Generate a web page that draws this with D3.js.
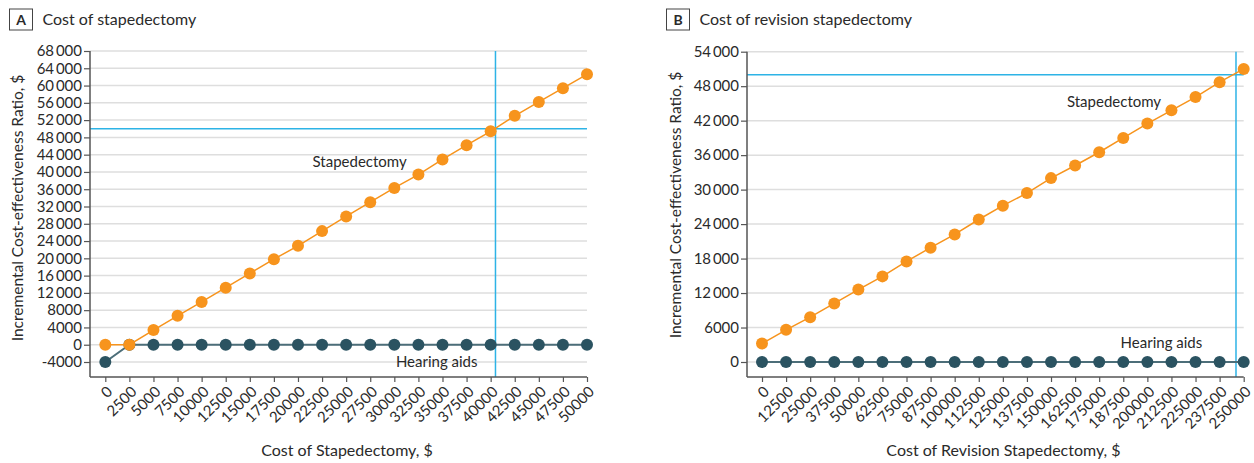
<!DOCTYPE html>
<html>
<head>
<meta charset="utf-8">
<script src="https://cdn.jsdelivr.net/npm/d3@7"></script>
<style>
  body { margin: 0; background: #fff; }
  svg text { font-family: Lato, "Noto Sans", sans-serif; fill: #2a2a2a; }
</style>
</head>
<body>
<svg id="chart" width="1254" height="463"></svg>
<script>
// Panel A: cost of primary stapedectomy vs ICER
const costA = [0, 2500, 5000, 7500, 10000, 12500, 15000, 17500, 20000, 22500, 25000,
               27500, 30000, 32500, 35000, 37500, 40000, 42500, 45000, 47500, 50000];
const stapedectomyA = [0, 0, 3400, 6700, 9900, 13200, 16500, 19800, 22900, 26300, 29700,
                       33000, 36300, 39400, 42900, 46200, 49400, 53000, 56200, 59400, 62600];
const hearingAidsA = [-4000, 0, 0, 0, 0, 0, 0, 0, 0, 0, 0,
                      0, 0, 0, 0, 0, 0, 0, 0, 0, 0];
const yTicksA = [-4000, 0, 4000, 8000, 12000, 16000, 20000, 24000, 28000, 32000, 36000,
                 40000, 44000, 48000, 52000, 56000, 60000, 64000, 68000];

// Panel B: cost of revision stapedectomy vs ICER
const costB = [0, 12500, 25000, 37500, 50000, 62500, 75000, 87500, 100000, 112500, 125000,
               137500, 150000, 162500, 175000, 187500, 200000, 212500, 225000, 237500, 250000];
const stapedectomyB = [3200, 5600, 7800, 10200, 12600, 14900, 17500, 19900, 22200, 24800, 27200,
                       29400, 32000, 34200, 36500, 39000, 41500, 43800, 46100, 48700, 51000];
const hearingAidsB = [0, 0, 0, 0, 0, 0, 0, 0, 0, 0, 0,
                      0, 0, 0, 0, 0, 0, 0, 0, 0, 0];
const yTicksB = [0, 6000, 12000, 18000, 24000, 30000, 36000, 42000, 48000, 54000];

// Willingness-to-pay threshold and the cost at which stapedectomy reaches it
const wtpThreshold = 50000;
const crossCostA = 40500;
const crossCostB = 246000;

const COLORS = {
  stap: "#f7941d",
  aidsDot: "#2b5361",
  aidsLine: "#4c6e79",
  ref: "#2db3e6",
  grid: "#dedede",
  axis: "#555"
};

const svg = d3.select("#chart");

function fmtY(v) {
  return Math.abs(v) >= 10000 ? d3.format(",")(v).replace(/,/g, "\u2009") : String(v);
}

function drawPanel(p) {
  const g = svg.append("g");
  const x = d3.scaleLinear().domain([p.costs[0], p.costs[p.costs.length - 1]]).range([p.xFirst, p.xLast]);
  const y = d3.scaleLinear().domain([p.yTicks[0], p.yTicks[p.yTicks.length - 1]]).range([p.yLow, p.yHigh]);

  // panel letter and title
  g.append("rect").attr("x", p.boxX).attr("y", 9).attr("width", 23).attr("height", 21)
    .attr("fill", "#fff").attr("stroke", "#444").attr("stroke-width", 1);
  g.append("text").attr("x", p.boxX + 11.5).attr("y", 25).attr("text-anchor", "middle")
    .attr("font-size", 14).attr("font-weight", 700).text(p.letter);
  g.append("text").attr("x", p.boxX + 33).attr("y", 25).attr("font-size", 16).text(p.title);

  // horizontal gridlines
  g.append("g").selectAll("line").data(p.yTicks).join("line")
    .attr("x1", p.axisX).attr("x2", p.xLast)
    .attr("y1", d => y(d)).attr("y2", d => y(d))
    .attr("stroke", COLORS.grid).attr("stroke-width", 1.5);

  // reference lines
  g.append("line").attr("x1", p.axisX).attr("x2", p.xLast)
    .attr("y1", y(wtpThreshold)).attr("y2", y(wtpThreshold))
    .attr("stroke", COLORS.ref).attr("stroke-width", 1.5);
  g.append("line").attr("x1", x(p.crossCost)).attr("x2", x(p.crossCost))
    .attr("y1", p.yHigh).attr("y2", p.axisY)
    .attr("stroke", COLORS.ref).attr("stroke-width", 1.5);

  // y axis
  const ya = g.append("g").attr("transform", `translate(${p.axisX},0)`)
    .call(d3.axisLeft(y).tickValues(p.yTicks).tickFormat(fmtY).tickSize(6).tickPadding(2).tickSizeOuter(0));
  ya.select(".domain").attr("d", `M0,${p.yHigh}V${p.axisY}`);
  ya.selectAll("line").attr("stroke", COLORS.axis).attr("stroke-width", 1.2);
  ya.select(".domain").attr("stroke", COLORS.axis).attr("stroke-width", 1.5);
  ya.selectAll("text").attr("font-size", 15).attr("font-family", "Lato").attr("fill", "#2a2a2a");

  // x axis
  const xa = g.append("g").attr("transform", `translate(0,${p.axisY})`)
    .call(d3.axisBottom(x).tickValues(p.costs).tickFormat(d => String(d)).tickSize(5).tickSizeOuter(0));
  xa.select(".domain").attr("d", `M${p.axisX},0H${p.xLast}`)
    .attr("stroke", COLORS.axis).attr("stroke-width", 1.5);
  xa.selectAll("line").attr("stroke", COLORS.axis).attr("stroke-width", 1.2);
  xa.selectAll("text")
    .attr("font-size", 15).attr("font-family", "Lato").attr("fill", "#2a2a2a")
    .attr("x", 0).attr("y", 0).attr("dy", "0.35em")
    .attr("text-anchor", "end")
    .attr("transform", "translate(4,12) rotate(-45)");

  // axis titles
  g.append("text").attr("x", p.xTitleX).attr("y", 456).attr("text-anchor", "middle")
    .attr("font-size", 16).text(p.xTitle);
  g.append("text")
    .attr("transform", `translate(${p.yTitleX},${p.yTitleY}) rotate(-90)`)
    .attr("text-anchor", "middle").attr("font-size", 15.5)
    .text("Incremental Cost-effectiveness Ratio, $");

  // series
  const line = d3.line().x(d => x(d[0])).y(d => y(d[1]));
  const aids = p.costs.map((c, i) => [c, p.aids[i]]);
  const stap = p.costs.map((c, i) => [c, p.stap[i]]);

  g.append("path").datum(aids).attr("d", line).attr("fill", "none")
    .attr("stroke", COLORS.aidsLine).attr("stroke-width", 2);
  g.append("g").selectAll("circle").data(aids).join("circle")
    .attr("cx", d => x(d[0])).attr("cy", d => y(d[1])).attr("r", 6)
    .attr("fill", COLORS.aidsDot);

  g.append("path").datum(stap).attr("d", line).attr("fill", "none")
    .attr("stroke", COLORS.stap).attr("stroke-width", 1.5);
  g.append("g").selectAll("circle").data(stap).join("circle")
    .attr("cx", d => x(d[0])).attr("cy", d => y(d[1])).attr("r", 6)
    .attr("fill", COLORS.stap);

  // series labels
  g.append("text").attr("x", x(p.stapLabel[0])).attr("y", y(p.stapLabel[1]))
    .attr("text-anchor", "middle").attr("font-size", 15).text("Stapedectomy");
  g.append("text").attr("x", x(p.aidsLabel[0])).attr("y", y(p.aidsLabel[1]))
    .attr("text-anchor", "middle").attr("font-size", 15).text("Hearing aids");
}

drawPanel({
  letter: "A", title: "Cost of stapedectomy", boxX: 9.5,
  costs: costA, stap: stapedectomyA, aids: hearingAidsA, yTicks: yTicksA,
  crossCost: crossCostA,
  axisX: 90, axisY: 377, xFirst: 105.3, xLast: 587, yLow: 362, yHigh: 51,
  xTitle: "Cost of Stapedectomy, $", xTitleX: 347,
  yTitleX: 23, yTitleY: 208,
  stapLabel: [26400, 41150], aidsLabel: [34400, -5150]
});

drawPanel({
  letter: "B", title: "Cost of revision stapedectomy", boxX: 666.5,
  costs: costB, stap: stapedectomyB, aids: hearingAidsB, yTicks: yTicksB,
  crossCost: crossCostB,
  axisX: 747, axisY: 377, xFirst: 762, xLast: 1243.7, yLow: 362, yHigh: 51.7,
  xTitle: "Cost of Revision Stapedectomy, $", xTitleX: 1003.5,
  yTitleX: 681, yTitleY: 205,
  stapLabel: [182700, 44400], aidsLabel: [207300, 2400]
});
</script>
</body>
</html>
